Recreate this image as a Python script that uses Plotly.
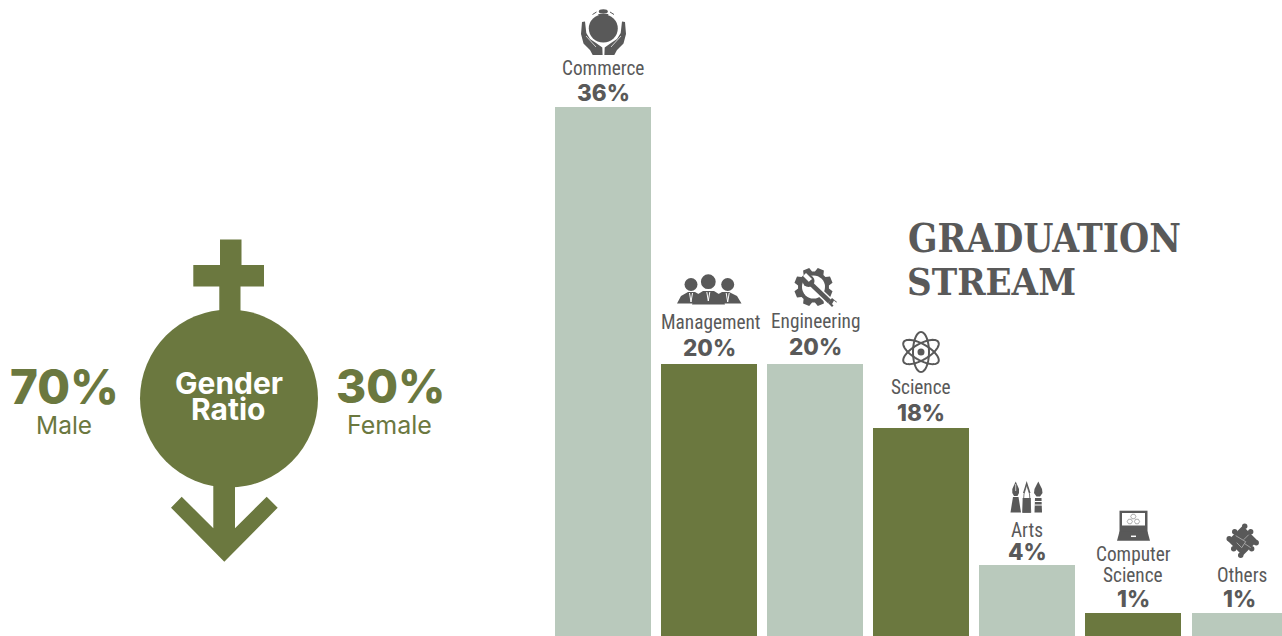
import math
import plotly.graph_objects as go

# ---- data ----
categories = ["Commerce", "Management", "Engineering", "Science", "Arts", "Computer Science", "Others"]
label_percent = ["36%", "20%", "20%", "18%", "4%", "1%", "1%"]
# heights as drawn in the picture, on a scale where the tallest bar is 36
bar_heights = [36, 18.5, 18.5, 14.15, 4.83, 1.57, 1.57]
gender_names = ["Male", "Female"]
gender_percent = ["70%", "30%"]

OLIVE = "#6b783f"
SAGE = "#b9c9bc"
GREY = "#595959"
bar_colors = [SAGE, OLIVE, SAGE, OLIVE, SAGE, OLIVE, SAGE]

W, H = 1282, 636
fig = go.Figure()
fig.add_trace(go.Bar(x=list(range(len(categories))), y=bar_heights, marker=dict(color=bar_colors, line_width=0),
                     width=0.905, hovertext=categories, hoverinfo="text", showlegend=False))

shapes = []
def base(**k):
    d = dict(xref="x2", yref="y2", layer="above")
    d.update(k)
    return d
def poly(pts, color=GREY, line=None, lw=0, closed=True):
    p = "M" + " L".join(f"{x:.2f},{y:.2f}" for x, y in pts) + (" Z" if closed else "")
    d = base(type="path", path=p, line=dict(width=lw, color=line or color))
    if closed:
        d["fillcolor"] = color
    shapes.append(d)
def circle(cx, cy, r, color=GREY, ry=None):
    ry = ry or r
    shapes.append(base(type="circle", x0=cx - r, x1=cx + r, y0=cy - ry, y1=cy + ry, fillcolor=color, line_width=0))
def seg(x0, y0, x1, y1, color=GREY, w=1):
    shapes.append(base(type="line", x0=x0, y0=y0, x1=x1, y1=y1, line=dict(color=color, width=w)))

# ---- gender symbol ----
circle(229, 398.5, 89, OLIVE)
poly([(220, 239.5), (241.5, 239.5), (241.5, 265), (264, 265), (264, 286.5), (240.5, 286.5), (240.5, 320),
      (219.3, 320), (219.3, 286.5), (193.3, 286.5), (193.3, 265), (220, 265)], OLIVE)
poly([(181.7, 496.7), (213.3, 528.3), (213.3, 480), (235, 480), (235, 528.3), (266.7, 496.7), (277.7, 507.7),
      (224.3, 561.7), (171, 507.7)], OLIVE)

# ---- commerce icon ----
circle(603.3, 28.5, 14.5, ry=14)
poly([(598, 14), (608.6, 14), (606, 18), (600.6, 18)])
circle(603.3, 11.5, 4.5, ry=2.2)
seg(592.5, 14.5, 596.5, 12, GREY, 1)
seg(614, 14.5, 610, 12, GREY, 1)
left_hand = [(582, 22), (585, 21.5), (586.3, 33), (590, 39), (596, 43), (602.3, 47.5), (602.6, 55),
             (592.7, 55), (590, 50), (583.5, 43.5), (581, 34)]
poly(left_hand)
poly([(2 * 603.5 - x, y) for x, y in left_hand])
seg(586, 36, 596, 47, "white", 0.7)
seg(621, 36, 611, 47, "white", 0.7)

# ---- management icon ----
for cx, r in [(691, 6.5), (727.7, 6.5), (708.3, 7.4)]:
    circle(cx, 284.5 if r < 7 else 281.7, r)
poly([(677, 303.5), (681, 296), (688, 292), (695, 292), (702, 296), (704, 303.5)])
poly([(713, 303.5), (715, 296), (722, 292), (729, 292), (737, 296), (741.5, 303.5)])
poly([(692, 304.5), (695, 296), (703, 291), (714, 291), (722, 296), (725, 304.5)])
for cx, y0 in [(691, 293), (708.3, 292), (727.7, 293)]:
    seg(cx - 1.5, y0, cx, y0 + 9, "white", 1)
    seg(cx + 1.5, y0, cx, y0 + 9, "white", 1)

# ---- engineering icon ----
cx, cy = 813.5, 287
gear = []
teeth = 8
for i in range(teeth):
    a = 2 * math.pi * i / teeth + math.pi / 8
    for da, r in [(-0.30, 15.5), (-0.17, 19.5), (0.17, 19.5), (0.30, 15.5)]:
        gear.append((cx + r * math.cos(a + da), cy + r * math.sin(a + da)))
poly(gear)
circle(cx, cy, 11.5, "white")
seg(809, 282, 832, 304, "white", 7.5)
circle(808.5, 281, 6)
poly([(806, 273), (812, 279), (809, 282), (803, 276)], "white")
seg(809, 282, 829.5, 301.5, GREY, 4.5)
poly([(832, 298), (837, 302), (832, 307), (828, 303)], GREY)
poly([(834, 300.5), (838, 304), (835, 307), (832, 304)], "white")

# ---- science icon ----
cx, cy = 921, 352
for ang in (90, 30, -30):
    t = math.radians(ang)
    pts = []
    for i in range(61):
        u = 2 * math.pi * i / 60
        ex, ey = 20 * math.cos(u), 8 * math.sin(u)
        pts.append((cx + ex * math.cos(t) - ey * math.sin(t), cy + ex * math.sin(t) + ey * math.cos(t)))
    poly(pts, line=GREY, lw=2, closed=False)
circle(cx, cy, 3.5)

# ---- arts icon ----
poly([(1015.7, 481.5), (1019, 489), (1019, 493), (1017.5, 496), (1014, 496), (1012.3, 493), (1012.3, 489)])
seg(1015.7, 484, 1015.7, 491, "white", 0.7)
poly([(1013, 497), (1018.5, 497), (1019.5, 503), (1021, 512.5), (1010.5, 512.5), (1012, 503)])
poly([(1026.7, 481), (1030.5, 493), (1023, 493)], GREY)
poly([(1026.7, 485), (1029.5, 494), (1030.8, 512.5), (1022.6, 512.5), (1024, 494)], "white", line=GREY, lw=0.8)
poly([(1022.6, 498), (1030.8, 498), (1030.8, 512.5), (1022.6, 512.5)])
poly([(1038.3, 481.5), (1042, 489), (1042.5, 493), (1040, 496.5), (1036.5, 496.5), (1034, 493), (1034.5, 489)])
poly([(1035, 498), (1041.5, 498), (1042, 512.5), (1034.5, 512.5)])
seg(1034.5, 501.5, 1042, 501.5, "white", 1)
seg(1034.5, 505, 1042, 505, "white", 1)

# ---- computer icon ----
poly([(1119.5, 510.7), (1147.5, 510.7), (1147.5, 533), (1119.5, 533)])
poly([(1122, 513), (1145, 513), (1145, 525.5), (1122, 525.5)], "white")
poly([(1119.5, 531.5), (1147.5, 531.5), (1150, 540.7), (1117, 540.7)])
seg(1131, 536.3, 1136, 536.3, "white", 1.5)
for hx, hy in [(1133.3, 516.5), (1129.8, 521.5), (1137, 521.5)]:
    hexa = [(hx + 2.6 * math.cos(math.pi / 3 * k), hy + 2.6 * math.sin(math.pi / 3 * k)) for k in range(7)]
    poly(hexa, line="#8a8a8a", lw=0.7, closed=False)

# ---- others icon ----
cx, cy = 1242.7, 540.7
poly([(cx, cy - 15), (cx + 15, cy), (cx, cy + 15), (cx - 15, cy)])
for dx, dy in [(-8, -9), (8, -9), (-9, 8), (9, 8), (-13.5, -2), (13.5, 2), (2, -14.5), (-2, 14.5)]:
    circle(cx + dx, cy + dy, 2.7)
for a, b in [((-7, -5), (3, 1)), ((3, 1), (-1, 7)), ((6, -6), (1, -1)), ((2, 3), (8, 7)), ((-6, 2), (-1, 7))]:
    seg(cx + a[0], cy + a[1], cx + b[0], cy + b[1], "#b5b5b5", 0.8)

# ---- text ----
ann = []
def text(s, x, y, size, color=GREY, family="Inter", weight=400, anchor="center"):
    ann.append(dict(text=s, x=x, y=y, xref="x2", yref="y2", xanchor=anchor, yanchor="middle", showarrow=False,
                    font=dict(family=family, size=size, color=color, weight=weight)))

NARROW = "Roboto Condensed, DejaVu Sans Condensed, Roboto"
SLAB = "DejaVu Serif Condensed, DejaVu Serif"
name_pos = [(603, 68), (711, 322), (815, 321), (921, 387), (1027, 530), (1133, 564.5), (1242, 575)]
pct_pos = [(603, 92), (709, 347), (815, 346), (921, 412), (1027, 551), (1133, 598), (1239, 598)]
for name, pct, (nx, ny), (px, py) in zip(categories, label_percent, name_pos, pct_pos):
    if name == "Computer Science":
        w1, w2 = name.split()
        text(w1, nx, 554, 19.3, family=NARROW)
        text(w2, nx, 575, 19.3, family=NARROW)
    else:
        text(name, nx, ny, 19.3, family=NARROW)
    text(pct, px, py, 22.5, weight=800)

text(gender_percent[0], 64, 386, 47.5, OLIVE, weight=800)
text(gender_percent[1], 390, 386, 46, OLIVE, weight=800)
text(gender_names[0], 64, 425, 24.5, OLIVE)
text(gender_names[1], 389, 425, 25, OLIVE)
text("Gender", 228.5, 383, 30, "white", weight=700)
text("Ratio", 228.5, 409, 30, "white", weight=700)
text("GRADUATION", 906, 238, 38.5, GREY, family=SLAB, weight=700, anchor="left")
text("STREAM", 905, 281, 38, GREY, family=SLAB, weight=700, anchor="left")

fig.update_layout(
    width=W, height=H, margin=dict(l=0, r=0, t=0, b=0), autosize=False,
    paper_bgcolor="white", plot_bgcolor="rgba(0,0,0,0)", bargap=0, showlegend=False,
    xaxis=dict(domain=[555 / W, 1], range=[-0.4525, 6.4], visible=False, fixedrange=True),
    yaxis=dict(domain=[0, 529 / H], range=[0, 36], visible=False, fixedrange=True),
    xaxis2=dict(domain=[0, 1], range=[0, W], visible=False, anchor="y2", fixedrange=True),
    yaxis2=dict(domain=[0, 1], range=[H, 0], visible=False, anchor="x2", fixedrange=True),
    shapes=shapes, annotations=ann,
)
fig.add_trace(go.Scatter(x=[0], y=[0], xaxis="x2", yaxis="y2", mode="markers", marker_opacity=0, hoverinfo="skip", showlegend=False))
fig.write_html("out.html", config=dict(displayModeBar=False),
               post_script="document.body.style.margin='0';")
